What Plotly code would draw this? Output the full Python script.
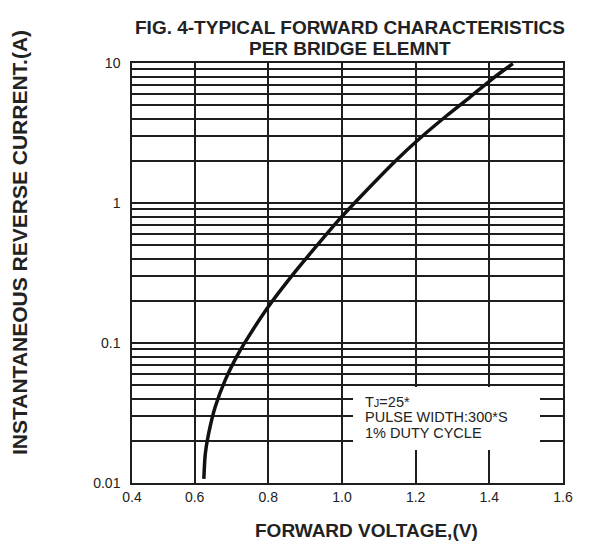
import plotly.graph_objects as go

# ---- data ----
forward_voltage = [0.625, 0.629, 0.638, 0.656, 0.683, 0.719, 0.746, 0.800, 0.873, 0.918,
                   0.995, 1.060, 1.148, 1.207, 1.284, 1.347, 1.410, 1.464]
forward_current = [0.0107, 0.0162, 0.0225, 0.0350, 0.0543, 0.0843, 0.1107, 0.1815, 0.323, 0.449,
                   0.776, 1.18, 2.03, 2.83, 4.20, 5.69, 7.78, 9.89]

x_tick_vals = [0.43, 0.6, 0.8, 1.0, 1.2, 1.4, 1.6]
x_tick_labels = ["0.4", "0.6", "0.8", "1.0", "1.2", "1.4", "1.6"]

y_decades = [0.01, 0.1, 1, 10]
y_decade_labels = ["0.01", "0.1", "1", "10"]
y_minor_multipliers = [2, 3, 4, 5, 6, 7, 8, 9]

title_lines = ["FIG. 4-TYPICAL FORWARD CHARACTERISTICS", "PER BRIDGE ELEMNT"]
note_lines = ["T<span style='font-size:11px'>J</span>=25*", "PULSE WIDTH:300*S", "1% DUTY CYCLE"]
x_title = "FORWARD VOLTAGE,(V)"
y_title = "INSTANTANEOUS REVERSE CURRENT.(A)"

# ---- layout geometry (reference pixel positions) ----
W, H = 589, 542
OFF = 8  # page body margin
L, R, T, B = 132, 563, 63, 483
FONT = "Liberation Sans, Arial, sans-serif"


def px(xp):
    return (xp - L) / (R - L)


def py(yp):
    return (B - yp) / (B - T)


y_tick_vals, y_tick_text = [], []
for d, lab in zip(y_decades, y_decade_labels):
    y_tick_vals.append(d)
    y_tick_text.append(lab)
    if d < 10:
        for m in y_minor_multipliers:
            y_tick_vals.append(d * m)
            y_tick_text.append(" ")

fig = go.Figure()
fig.add_trace(go.Scatter(
    x=forward_voltage, y=forward_current, mode="lines",
    line=dict(color="#111111", width=3.5, shape="spline", smoothing=0.7),
    showlegend=False, hoverinfo="skip"))

fig.update_layout(
    width=W - OFF, height=H - OFF,
    margin=dict(l=L - OFF, r=W - R, t=T - OFF, b=H - B, pad=0),
    paper_bgcolor="white", plot_bgcolor="white",
    font=dict(family=FONT, color="#222222", size=14),
    showlegend=False,
)

fig.update_xaxes(
    range=[0.43, 1.6], tickvals=x_tick_vals, ticktext=x_tick_labels,
    showgrid=True, gridcolor="#1e1e1e", gridwidth=1.5,
    showline=True, linecolor="#1e1e1e", linewidth=1.5, mirror=True,
    ticks="", ticklabelstandoff=0, zeroline=False,
    tickfont=dict(size=14, family=FONT, color="#222222"),
)
fig.update_yaxes(
    type="log", range=[-2, 1], tickvals=y_tick_vals, ticktext=y_tick_text,
    showgrid=True, gridcolor="#1e1e1e", gridwidth=2,
    showline=True, linecolor="#1e1e1e", linewidth=1.5, mirror=True,
    ticks="", ticklabelstandoff=7, zeroline=False,
    tickfont=dict(size=14, family=FONT, color="#222222"),
)

# white box behind the test-condition note
fig.add_shape(type="rect", xref="paper", yref="paper",
              x0=px(353), x1=px(540), y0=py(450), y1=py(387),
              fillcolor="white", line=dict(width=0), layer="above")

ann = []
for txt, yp in zip(title_lines, [27.5, 48.5]):
    ann.append(dict(text="<b>%s</b>" % txt, x=px(350), y=py(yp), xref="paper", yref="paper",
                    xanchor="center", yanchor="middle", showarrow=False,
                    font=dict(size=19, family=FONT, color="#222222")))
for txt, yp in zip(note_lines, [401.7, 417.3, 433.3]):
    ann.append(dict(text=txt, x=px(362.5), y=py(yp), xref="paper", yref="paper",
                    xanchor="left", yanchor="middle", showarrow=False,
                    font=dict(size=14.5, family=FONT, color="#222222")))
ann.append(dict(text="<b>%s</b>" % x_title, x=px(366), y=py(530), xref="paper", yref="paper",
                xanchor="center", yanchor="middle", showarrow=False,
                font=dict(size=19, family=FONT, color="#222222")))
ann.append(dict(text="<b>%s</b>" % y_title, x=px(19), y=py(243), xref="paper", yref="paper",
                xanchor="center", yanchor="middle", showarrow=False, textangle=-90,
                borderpad=0,
                font=dict(size=21, family=FONT, color="#222222")))
fig.update_layout(annotations=ann)

fig.write_html("out.html")
